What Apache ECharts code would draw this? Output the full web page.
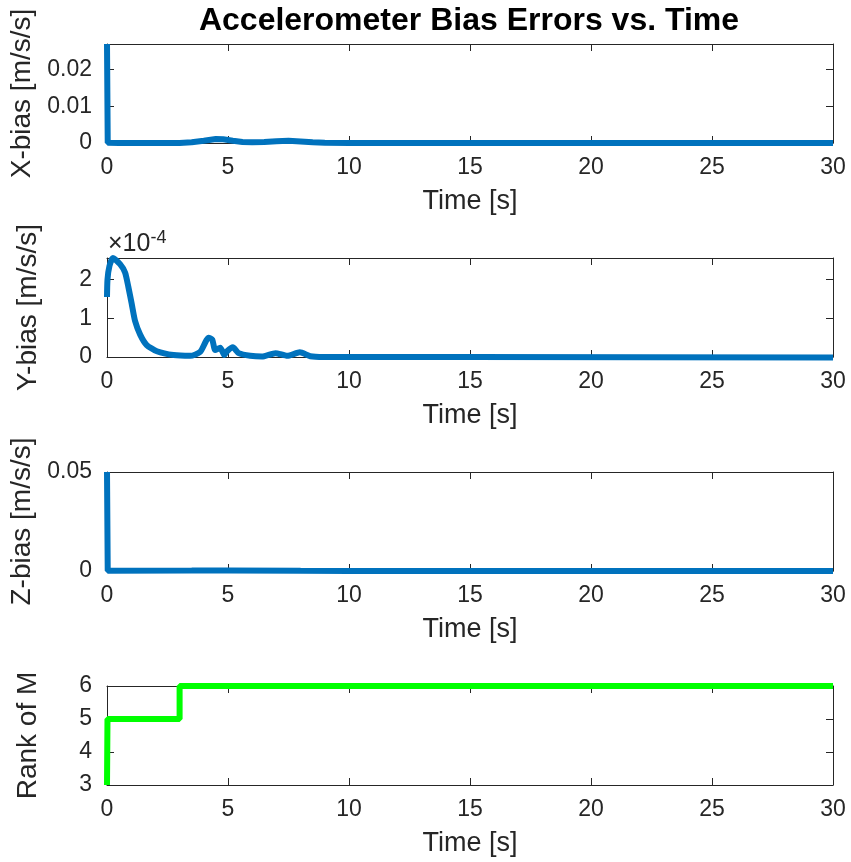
<!DOCTYPE html>
<html>
<head>
<meta charset="utf-8">
<script src="https://cdn.jsdelivr.net/npm/echarts@6/dist/echarts.min.js"></script>
<style>html,body{margin:0;padding:0;background:#fff}#c{width:851px;height:862px}</style>
</head>
<body>
<div id="c"></div>
<script>
// ---- Data ----
const xTicks = [0, 5, 10, 15, 20, 25, 30];
// X-bias [m/s/s] : [time, value]
const xBias = [[0,0.027],[0.03,0.0001],[0.5,0],[3.0,0],[3.5,0.0002],[4.0,0.0006],[4.5,0.0011],[4.8,0.001],[5.2,0.0006],[5.6,0.0003],[6.0,0.0002],[6.5,0.0003],[7.0,0.0005],[7.5,0.0006],[8.0,0.0004],[8.5,0.0002],[9.0,0.0001],[10,0],[30,0]];
// Y-bias in units of 1e-4 m/s/s : [time, value]
const yBiasE4 = [[0,1.55],[0.02,2.0],[0.1,2.35],[0.24,2.56],[0.54,2.4],[0.75,2.18],[0.88,1.82],[1.02,1.38],[1.16,0.93],[1.37,0.58],[1.64,0.31],[2.06,0.15],[2.75,0.05],[3.44,0.03],[3.85,0.13],[4.2,0.5],[4.35,0.45],[4.47,0.18],[4.68,0.24],[4.85,0.05],[4.95,0.14],[5.2,0.25],[5.44,0.1],[5.92,0.03],[6.4,0.01],[6.96,0.1],[7.45,0.03],[7.97,0.12],[8.4,0.02],[8.95,0.0],[15,0],[30,-0.01]];
// Z-bias [m/s/s]
const zBias = [[0,0.05],[0.03,0.0001],[3.5,0.0002],[5,0.0003],[8,0.0001],[10,0],[30,0]];
// Rank of M (step)
const rankM = [[0,3],[0.02,5],[3.0,6],[30,6]];

const yLabels = ['X-bias [m/s/s]', 'Y-bias [m/s/s]', 'Z-bias [m/s/s]', 'Rank of M'];
const yRanges = [[0,0.027,0.01],[0,2.56,1],[0,0.05,0.05],[3,6,1]];

const AX = '#262626';
const FONT = 'Liberation Sans, Arial, Helvetica, sans-serif';
const tops = [44, 258, 472, 686];
const grids = tops.map(t => ({left:107, top:t, width:726, height:99}));

const xAxes = [], yAxes = [];
for (let i = 0; i < 4; i++) {
  const common = {
    axisLine:{show:true, onZero:false, lineStyle:{color:AX, width:1}},
    axisTick:{show:true, inside:true, length:7, lineStyle:{color:AX}},
    splitLine:{show:false}
  };
  xAxes.push(Object.assign({}, common, {
    type:'value', gridIndex:i, position:'bottom', min:0, max:30, interval:5,
    axisLabel:{show:true, color:AX, fontSize:23, fontFamily:FONT, margin:13},
    name:'Time [s]', nameLocation:'middle', nameGap:45,
    nameTextStyle:{color:AX, fontSize:27, fontFamily:FONT}
  }));
  xAxes.push(Object.assign({}, common, {
    type:'value', gridIndex:i, position:'top', min:0, max:30, interval:5,
    axisLabel:{show:false}
  }));
  const r = yRanges[i];
  yAxes.push(Object.assign({}, common, {
    type:'value', gridIndex:i, position:'left', min:r[0], max:r[1], interval:r[2],
    axisLabel:{show:true, color:AX, fontSize:23, fontFamily:FONT, margin:15, showMaxLabel: (i>=2)},
    name:yLabels[i], nameLocation:'middle', nameGap:65, nameRotate:90,
    nameTextStyle:{color:AX, fontSize:28, fontFamily:FONT}
  }));
  yAxes.push(Object.assign({}, common, {
    type:'value', gridIndex:i, position:'right', min:r[0], max:r[1], interval:r[2],
    axisLabel:{show:false}
  }));
}

const BLUE = '#0072BD';
const series = [
  {type:'line', xAxisIndex:0, yAxisIndex:0, data:xBias, showSymbol:false, clip:false, lineStyle:{color:BLUE, width:6}},
  {type:'line', xAxisIndex:2, yAxisIndex:2, data:yBiasE4, showSymbol:false, clip:false, smooth:0.2, lineStyle:{color:BLUE, width:6}},
  {type:'line', xAxisIndex:4, yAxisIndex:4, data:zBias, showSymbol:false, clip:false, lineStyle:{color:BLUE, width:6}},
  {type:'line', xAxisIndex:6, yAxisIndex:6, data:rankM, step:'end', showSymbol:false, clip:false, lineStyle:{color:'#00FF00', width:6}}
];

const chart = echarts.init(document.getElementById('c'), null, {renderer:'canvas'});
chart.setOption({
  animation:false,
  backgroundColor:'#fff',
  grid:grids, xAxis:xAxes, yAxis:yAxes, series:series,
  graphic:[
    {type:'text', x:469, y:21, style:{text:'Accelerometer Bias Errors vs. Time', fill:'#000', font:'bold 32px '+FONT, textAlign:'center', textVerticalAlign:'middle'}},
    {type:'text', x:108, y:244, style:{text:'×10{s|-4}', fill:AX, font:'25px '+FONT, textVerticalAlign:'middle', rich:{s:{fontSize:18, fontFamily:FONT, fill:AX, verticalAlign:'top', padding:[0,0,12,0]}}}}
  ]
});
</script>
</body>
</html>
